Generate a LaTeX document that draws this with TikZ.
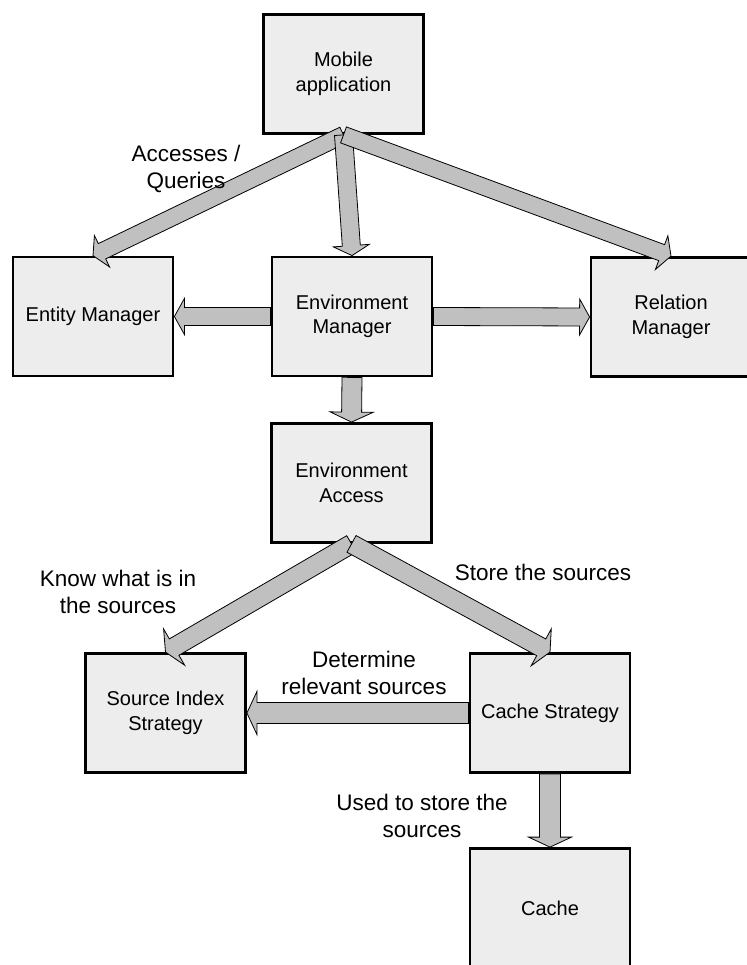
\documentclass[tikz,border=0pt]{standalone}
\usepackage{fontspec}
\setmainfont{Liberation Sans}
\usetikzlibrary{calc}

\definecolor{boxfill}{HTML}{EDEDED}
\definecolor{arrowfill}{HTML}{C0C0C0}

\tikzset{
  module/.style={draw=black, line width=2.8pt, fill=boxfill, rectangle,
    minimum width=160pt, minimum height=119pt, inner sep=0pt, align=center,
    font=\fontsize{20}{24.5}\selectfont},
  arrowbody/.style={draw=black, line width=0.8pt, fill=arrowfill, line join=miter},
  caption/.style={align=center, inner sep=0pt, font=\fontsize{22.5}{27}\selectfont}
}

% Block arrow from #1 to #2: half shaft width #3, half head width #4
\newcommand\blockarrow[4]{%
  \path (#1) coordinate (ba-a) (#2) coordinate (ba-b);
  \path ($(ba-b)!10pt!(ba-a)$) coordinate (ba-h);
  \draw[arrowbody]
    ($(ba-a)!#3!90:(ba-b)$) -- ($(ba-h)!#3!90:(ba-b)$) --
    ($(ba-h)!#4!90:(ba-b)$) -- (ba-b) --
    ($(ba-h)!#4!-90:(ba-b)$) -- ($(ba-h)!#3!-90:(ba-b)$) --
    ($(ba-a)!#3!-90:(ba-b)$) -- cycle;
}

\begin{document}
\begin{tikzpicture}[x=1pt, y=-1pt]
\useasboundingbox (0,0) rectangle (746,965);

% modules
\node[module] (mobile)   at (343.5,74)  {Mobile\\application};
\node[module] (entity)   at (93,316.5)  {Entity Manager};
\node[module] (envmgr)   at (352,316.5) {Environment\\Manager};
\node[module] (relation) at (671,317)   {Relation\\Manager};
\node[module] (envacc)   at (351.5,483) {Environment\\Access};
\node[module] (srcidx)   at (165.5,713) {Source Index\\Strategy};
\node[module] (cachestr) at (550,713)   {Cache Strategy};
\node[module] (cache)    at (550,908)   {Cache};

% connectors
\blockarrow{mobile.south}{entity.north}{8.5pt}{17.5pt}
\blockarrow{mobile.south}{envmgr.north}{9pt}{18pt}
\blockarrow{mobile.south}{relation.north}{8.5pt}{18pt}
\blockarrow{envmgr.west}{entity.east}{9pt}{18pt}
\blockarrow{envmgr.east}{relation.west}{9pt}{18pt}
\blockarrow{envmgr.south}{envacc.north}{10pt}{21.5pt}
\blockarrow{envacc.south}{srcidx.north}{9.5pt}{21pt}
\blockarrow{envacc.south}{cachestr.north}{9.5pt}{21pt}
\blockarrow{cachestr.west}{srcidx.east}{10.5pt}{21.5pt}
\blockarrow{cachestr.south}{cache.north}{10.5pt}{21.5pt}

% labels
\node[caption] (lbl-access) at (186,169) {Accesses /\\Queries};
\node[caption] (lbl-know)   at (118,592) {Know what is in\\the sources};
\node[caption] (lbl-store)  at (543,572) {Store the sources};
\node[caption] (lbl-det)    at (364,673) {Determine\\relevant sources};
\node[caption] (lbl-used)   at (422,816) {Used to store the\\sources};
\end{tikzpicture}
\end{document}
